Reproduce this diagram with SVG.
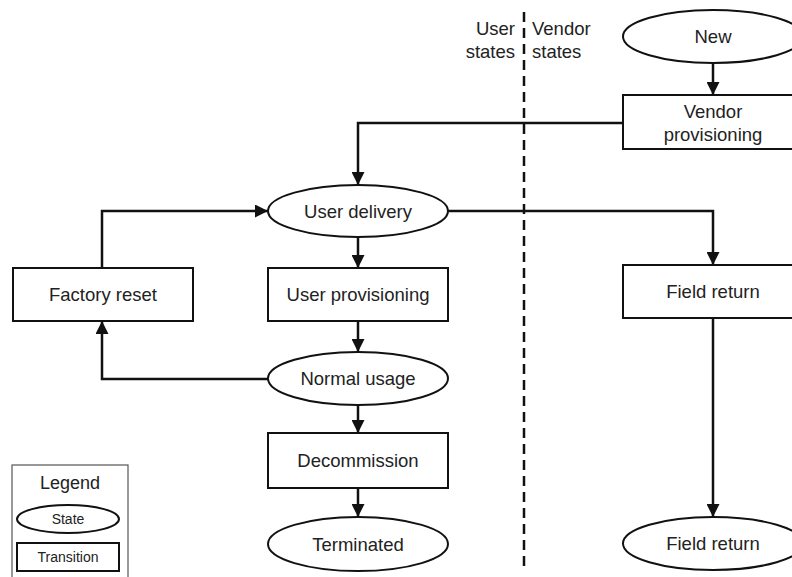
<svg xmlns="http://www.w3.org/2000/svg" width="792" height="577" viewBox="0 0 792 577">
<style>
text{font-family:"Liberation Sans",Arial,sans-serif;font-size:18.5px;fill:#222;text-anchor:middle}
.shape{fill:#fff;stroke:#111;stroke-width:2}
.conn{fill:none;stroke:#111;stroke-width:2.5}
.lg{fill:#fff;stroke:#555;stroke-width:1.2}
.small{font-size:14px}
</style>
<defs>
<marker id="arr" markerUnits="userSpaceOnUse" markerWidth="13" markerHeight="13" refX="13" refY="6.5" orient="auto">
<path d="M0,0 L13,6.5 L0,13 z" fill="#111"/>
</marker>
</defs>
<rect width="792" height="577" fill="#fff"/>
<g id="divider">
<line x1="524" y1="12" x2="524" y2="568" stroke="#111" stroke-width="2.5" stroke-dasharray="10,6"/>
<text x="515" y="35" style="text-anchor:end">User</text>
<text x="515" y="58" style="text-anchor:end">states</text>
<text x="532" y="35" style="text-anchor:start">Vendor</text>
<text x="532" y="58" style="text-anchor:start">states</text>
</g>
<g id="connectors">
<path class="conn" d="M713,63 V95" marker-end="url(#arr)"/>
<path class="conn" d="M623,123 H358 V185" marker-end="url(#arr)"/>
<path class="conn" d="M102,268 V211 H268" marker-end="url(#arr)"/>
<path class="conn" d="M358,237 V268" marker-end="url(#arr)"/>
<path class="conn" d="M448,211 H713 V265" marker-end="url(#arr)"/>
<path class="conn" d="M358,321 V352" marker-end="url(#arr)"/>
<path class="conn" d="M268,379 H102 V321" marker-end="url(#arr)"/>
<path class="conn" d="M358,405 V433" marker-end="url(#arr)"/>
<path class="conn" d="M358,488 V517" marker-end="url(#arr)"/>
<path class="conn" d="M713,318 V517" marker-end="url(#arr)"/>
</g>
<g id="new">
<ellipse class="shape" cx="713" cy="36.5" rx="90" ry="26.5"/>
<text x="713" y="43">New</text>
</g>
<g id="vendor-provisioning">
<rect class="shape" x="623" y="95" width="180" height="54"/>
<text x="713" y="118">Vendor</text>
<text x="713" y="141">provisioning</text>
</g>
<g id="user-delivery">
<ellipse class="shape" cx="358" cy="211" rx="90" ry="26"/>
<text x="358" y="217.5">User delivery</text>
</g>
<g id="factory-reset">
<rect class="shape" x="13" y="268" width="180" height="53"/>
<text x="103" y="301">Factory reset</text>
</g>
<g id="user-provisioning">
<rect class="shape" x="268" y="268" width="180" height="53"/>
<text x="358" y="301">User provisioning</text>
</g>
<g id="field-return-transition">
<rect class="shape" x="623" y="265" width="180" height="53"/>
<text x="713" y="298">Field return</text>
</g>
<g id="normal-usage">
<ellipse class="shape" cx="358" cy="378.5" rx="90" ry="26.5"/>
<text x="358" y="385">Normal usage</text>
</g>
<g id="decommission">
<rect class="shape" x="268" y="433" width="180" height="55"/>
<text x="358" y="467">Decommission</text>
</g>
<g id="terminated">
<ellipse class="shape" cx="358" cy="544" rx="90" ry="27"/>
<text x="358" y="550.5">Terminated</text>
</g>
<g id="field-return-state">
<ellipse class="shape" cx="713" cy="543.5" rx="90" ry="26.5"/>
<text x="713" y="550">Field return</text>
</g>
<g id="legend">
<rect class="lg" x="12" y="465" width="116" height="120"/>
<text x="70" y="489" style="font-size:18px">Legend</text>
<ellipse class="shape" cx="68" cy="519" rx="51" ry="14"/>
<text class="small" x="68" y="524">State</text>
<rect class="shape" x="17" y="543" width="102" height="28"/>
<text class="small" x="68" y="562">Transition</text>
</g>
</svg>
